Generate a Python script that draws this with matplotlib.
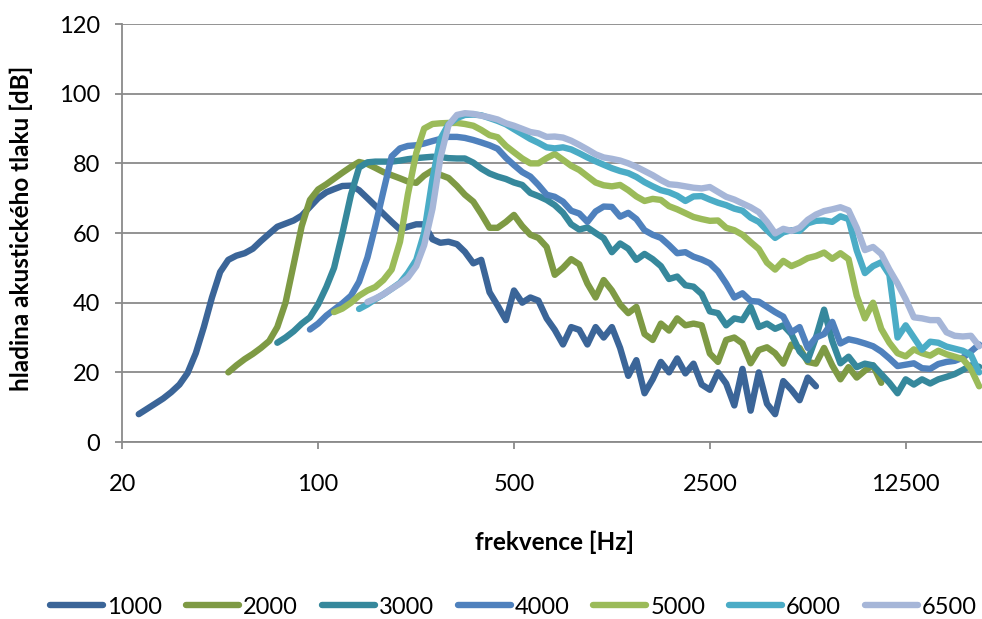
import numpy as np
import matplotlib
matplotlib.use("Agg")
import matplotlib.pyplot as plt
from matplotlib.ticker import FixedLocator, FixedFormatter, NullLocator

plt.rcParams['font.family'] = ['Lato', 'DejaVu Sans']

# frequency bands [Hz]
freq = [20, 21.4, 22.9, 24.5, 26.2, 28.0, 29.9, 32.0, 34.2, 36.6, 39.1, 41.8,
        44.7, 47.8, 51.1, 54.7, 58.5, 62.5, 66.9, 71.5, 76.5, 81.8, 87.4, 93.5,
        100, 107, 114, 122, 131, 140, 150, 160, 171, 183, 196, 209,
        224, 239, 256, 273, 292, 313, 334, 358, 382, 409, 437, 468,
        500, 535, 572, 611, 654, 699, 748, 800, 855, 914, 978, 1045,
        1118, 1196, 1279, 1367, 1462, 1563, 1672, 1788, 1912, 2045, 2186, 2338,
        2500, 2673, 2859, 3057, 3269, 3496, 3738, 3998, 4275, 4571, 4888, 5227,
        5590, 5978, 6392, 6836, 7310, 7817, 8359, 8939, 9559, 10222, 10931, 11690,
        12500, 13367, 14294, 15286, 16346, 17480, 18693, 19989, 21375, 22858]

series_names = ["1000", "2000", "3000", "4000", "5000", "6000", "6500"]
# index of the first band in which each series has a value
first_band = [2, 13, 19, 23, 26, 29, 30]

s1000 = [8, 9.5, 11, 12.5, 14.3, 16.5, 19.8, 25.5, 33, 41.5,
         48.8, 52.3, 53.5, 54.2, 55.5, 57.7, 59.8, 61.8, 62.7, 63.6,
         65, 67.5, 70, 71.7, 72.6, 73.5, 73.6, 72.3, 70, 67.8,
         65.5, 63.2, 61, 61.8, 62.5, 62.5, 58.2, 57.2, 57.5, 56.8,
         54.6, 51.3, 52.3, 43, 39.2, 35, 43.5, 40, 41.5, 40.6,
         35.5, 32.2, 28, 33, 32.2, 28, 33, 30, 33, 27,
         19, 23.5, 14, 18, 23, 20, 24, 19.7, 22.5, 16.5,
         15, 20, 16.8, 10.5, 21, 9, 20, 11, 8, 17.5,
         15, 12, 18.5, 16]
s2000 = [20, 22, 23.8, 25.3, 27, 29, 33, 40, 51, 62,
         69.5, 72.5, 74, 75.6, 77.3, 79, 80.4, 79.8, 78.7, 77.5,
         76.6, 75.7, 74.8, 74.4, 76.5, 78, 76.7, 75.8, 73.5, 71,
         69, 65.5, 61.5, 61.5, 63.2, 65.2, 62, 59.5, 58.6, 56,
         48, 50, 52.5, 51, 45.5, 41.5, 46.5, 43.5, 39.5, 37,
         38.8, 31, 29.3, 34, 32, 35.5, 33.5, 34, 33.5, 25.4,
         23, 29.3, 30, 28.3, 22.6, 26.4, 27.2, 25.5, 22.5, 28,
         27, 23, 22.5, 27, 22, 18, 21.5, 18.5, 20.5, 22, 17]
s3000 = [28.5, 30, 31.8, 34, 35.8, 39.5, 44.5, 50, 59.8, 71,
         78.8, 80.3, 80.5, 80.5, 80.5, 80.8, 81.2, 81.5, 81.7, 81.9,
         81.8, 81.5, 81.4, 81.4, 80.2, 78.5, 77.1, 76.2, 75.5, 74.5,
         73.8, 71.5, 70.6, 69.5, 68, 65.8, 62.5, 61, 61.6, 60,
         58.5, 54.5, 57, 55.5, 52.3, 54, 52.5, 50.5, 46.8, 47.5,
         45, 44.6, 42.5, 37.5, 37, 33.5, 35.5, 35, 38.8, 33,
         34, 32.5, 33.5, 31, 26, 23.5, 30, 38, 29, 22.6,
         24.5, 21.5, 22.5, 22, 19.5, 17, 14, 18, 16.5, 18,
         16.8, 18, 18.7, 19.5, 20.7, 22, 21.6]
s4000 = [32.3, 34, 36.3, 38, 39.8, 42, 46, 53, 62, 72,
         82, 84.3, 85, 85.2, 85.7, 86.4, 87, 87.6, 87.6, 87.3,
         86.7, 86, 85.2, 84.2, 81.6, 79.5, 77.5, 76.2, 73.8, 71,
         70.4, 69, 66.4, 65.6, 63.2, 66.2, 67.6, 67.5, 64.7, 65.8,
         64, 60.8, 59.5, 58.6, 56.5, 54.2, 54.5, 53.2, 52.4, 51.3,
         49, 45.5, 41.5, 42.7, 40.5, 40.3, 38.8, 37.3, 36, 31.5,
         33, 27, 30, 31, 34.5, 28.3, 29.5, 29, 28.3, 27.5,
         26, 24, 21.8, 22.2, 22.6, 21.2, 21, 22.4, 23, 23.3,
         24.2, 26, 28]
s5000 = [37.3, 38.3, 40, 42, 43.5, 44.5, 46.5, 49.5, 57.5, 71,
         83, 90, 91.3, 91.5, 91.6, 91.6, 91.3, 90.8, 89.6, 88.1,
         87.5, 85, 83.2, 81.4, 80, 80, 81.5, 82.7, 81, 79.3,
         78.1, 76.3, 74.5, 73.7, 73.4, 73.8, 72.3, 70.5, 69.2, 69.8,
         69.5, 67.7, 66.8, 65.7, 64.6, 64, 63.5, 63.6, 61.5, 60.8,
         59.5, 57.4, 55.4, 51.5, 49.5, 52, 50.5, 51.5, 52.8, 53.4,
         54.4, 52.6, 54.2, 52.5, 42, 35.5, 40, 32.5, 28.5, 25.5,
         24.6, 26.6, 25.5, 24.8, 26.2, 25.2, 24.5, 23.8, 21, 16]
s6000 = [38.2, 39.5, 41, 42.4, 44, 45.7, 48.5, 52.3, 60, 75.5,
         87, 91.2, 93, 93.9, 94, 93.8, 93, 92.2, 91.2, 89.8,
         88.4, 87, 85.9, 84.6, 84.3, 84.6, 84, 82.9, 81.7, 80.6,
         79.6, 78.6, 77.8, 77.2, 76.1, 74.6, 73.4, 72.3, 71.7, 70.7,
         69.2, 70.5, 70.6, 69.6, 68.7, 68, 67, 66.4, 64.4, 63.2,
         60.8, 58.6, 60.2, 60.8, 60.6, 62.8, 63.5, 63.6, 63.2, 64.8,
         64, 55, 48.5, 50.5, 51.6, 48, 30, 33.5, 30, 26.5,
         28.8, 28.5, 27.4, 26.8, 26.2, 25, 20]
s6500 = [40.2, 41.2, 42.4, 44, 45.5, 47.2, 50.5, 56.5, 67, 81.5,
         91, 93.9, 94.4, 94.2, 93.7, 93.2, 92.6, 91.5, 90.8, 89.9,
         89, 88.6, 87.6, 87.7, 87.4, 86.5, 85.3, 84, 82.6, 81.7,
         81.3, 80.8, 80, 79, 77.8, 76.6, 75.2, 74, 73.8, 73.4,
         73, 72.8, 73.2, 71.8, 70.4, 69.6, 68.5, 67.4, 66, 63.2,
         59.9, 61.2, 60.6, 61.5, 63.8, 65.3, 66.3, 66.8, 67.4, 66.5,
         61.5, 55.1, 56, 54, 49.5, 45.5, 41, 35.8, 35.5, 35,
         35, 31.5, 30.5, 30.3, 30.5, 27.5]

xticks = [20, 100, 500, 2500, 12500]
xtick_labels = ["20", "100", "500", "2500", "12500"]
yticks = [0, 20, 40, 60, 80, 100, 120]

colors = ['#3B6598', '#7E9A44', '#36889C', '#4F81BD', '#9BBB59', '#4BACC6', '#A6B6D8']
all_series = [s1000, s2000, s3000, s4000, s5000, s6000, s6500]

fig = plt.figure(figsize=(9.82, 6.19), dpi=100)
ax = fig.add_axes([0.1245, 0.2859, 0.8755, 0.6753])

for name, start, vals, col in zip(series_names, first_band, all_series, colors):
    f = np.array(freq[start:start + len(vals)])
    v = np.array(vals[:len(f)])
    ax.plot(f, v, color=col, lw=4.6, label=name, solid_capstyle='round',
            solid_joinstyle='round', zorder=3)

ax.set_xscale('log')
ax.set_xlim(20, 23400)
ax.set_ylim(0, 120)
ax.xaxis.set_major_locator(FixedLocator(xticks))
ax.xaxis.set_major_formatter(FixedFormatter(xtick_labels))
ax.xaxis.set_minor_locator(NullLocator())
ax.set_yticks(yticks)

grid_col = '#8A8A8A'
ax.yaxis.grid(True, color=grid_col, lw=1.3, zorder=0)
ax.set_axisbelow(True)
for s in ['top', 'right']:
    ax.spines[s].set_visible(False)
for s in ['left', 'bottom']:
    ax.spines[s].set_color(grid_col)
    ax.spines[s].set_linewidth(1.3)
ax.tick_params(axis='both', direction='out', length=5, width=1.3, color=grid_col,
               labelsize=17, labelcolor='black')
ax.tick_params(axis='y', pad=11)
ax.tick_params(axis='x', pad=18)

ax.set_ylabel("hladina akustického tlaku [dB]", fontsize=17.5, fontweight='bold')
ax.yaxis.set_label_coords(-0.104, 0.512)
ax.set_xlabel("frekvence [Hz]", fontsize=17.5, fontweight='bold')
ax.xaxis.set_label_coords(0.503, -0.213)

fig.legend(loc='center', bbox_to_anchor=(0.523, 0.019), ncol=7, frameon=False,
           fontsize=17, handlelength=2.25, handletextpad=0.17, columnspacing=1.0)

fig.savefig("out.png", dpi=100)
